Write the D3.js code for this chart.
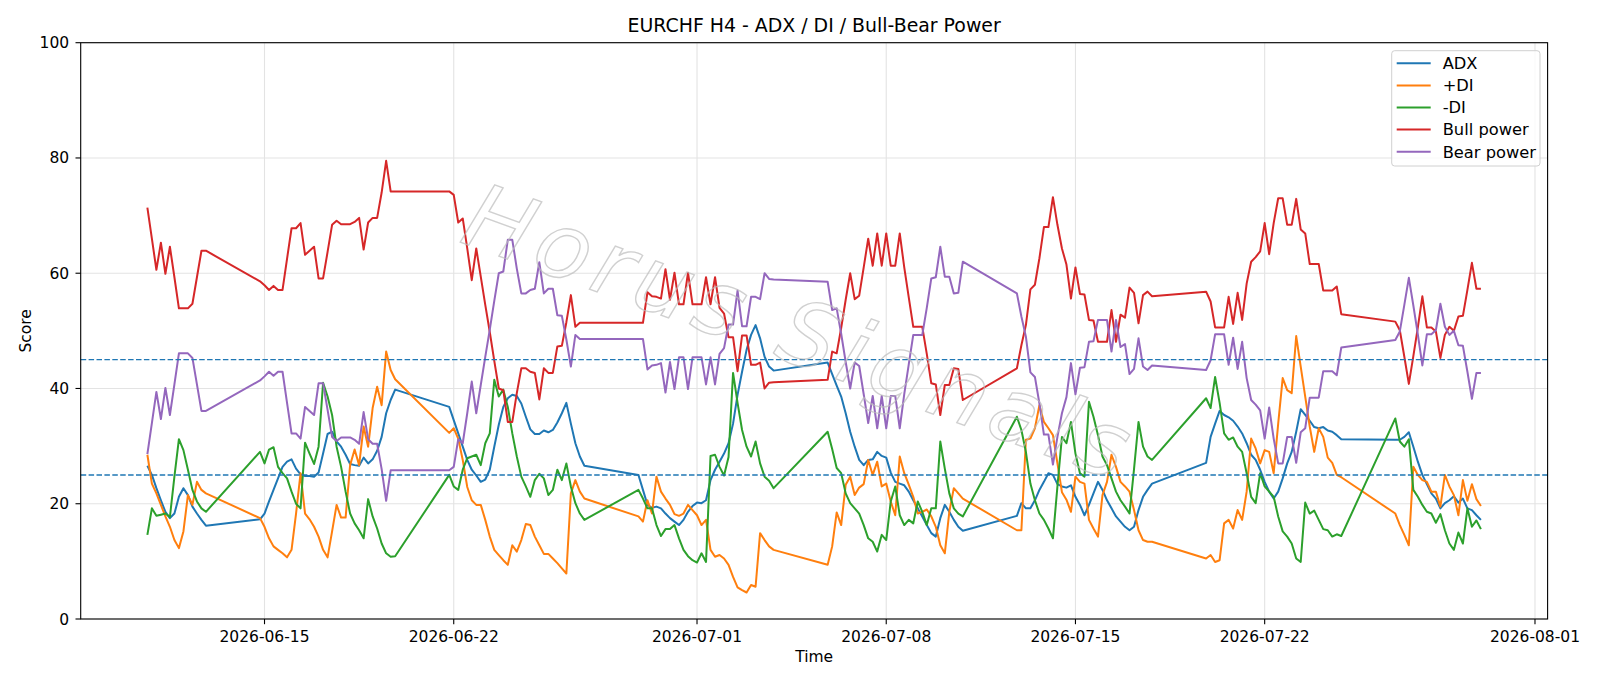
<!DOCTYPE html>
<html>
<head>
<meta charset="utf-8">
<script src="https://cdn.jsdelivr.net/npm/d3@7"></script>
<style>
  body { margin: 0; background: #fff; }
  svg { display: block; font-family: "DejaVu Sans", sans-serif; }
</style>
</head>
<body>
<svg id="chart"></svg>
<script>
// H4 bars: each session is a run of consecutive 4-hour bars (Sunday 20:00 -> Friday 20:00)
const sessions = [
    ["2026-06-10T16:00:00Z", 14],
    ["2026-06-14T20:00:00Z", 31],
    ["2026-06-21T20:00:00Z", 31],
    ["2026-06-28T20:00:00Z", 31],
    ["2026-07-05T20:00:00Z", 31],
    ["2026-07-12T20:00:00Z", 31],
    ["2026-07-19T20:00:00Z", 31],
    ["2026-07-26T20:00:00Z", 20]
];

const adx = [
    26.6, 25.0, 22.7, 20.6, 18.6, 17.5, 18.3, 21.2, 22.7, 21.5, 19.5, 18.3, 17.2, 16.2,
    17.3, 18.3, 20.4, 22.4, 24.4, 26.4, 27.3, 27.7, 26.1, 25.1, 24.8, 24.8, 24.7, 25.4, 28.7, 32.1, 32.5, 30.8, 29.9, 28.5, 26.9, 26.7, 26.6, 28.0, 27.0, 27.7, 29.2, 31.6, 35.7, 38.0, 39.8,
    36.8, 34.5, 32.2, 29.9, 27.6, 25.9, 24.9, 23.8, 24.2, 25.9, 29.9, 33.7, 36.8, 38.3, 38.9, 38.7, 37.4, 35.1, 32.9, 32.1, 32.1, 32.7, 32.4, 32.8, 34.1, 35.7, 37.5, 33.9, 30.5, 28.2, 26.6,
    25.0, 22.4, 19.8, 19.3, 19.5, 19.2, 18.3, 17.5, 16.9, 16.3, 17.2, 18.6, 19.6, 20.2, 20.1, 20.6, 24.1, 25.9, 27.3, 28.7, 30.5, 33.9, 38.9, 42.9, 46.7, 49.3, 51.0, 48.7, 45.5, 43.8, 43.1,
    44.5, 42.5, 40.5, 38.6, 35.7, 32.5, 29.9, 27.6, 26.7, 27.6, 27.7, 29.0, 28.3, 28.0, 25.4, 23.8, 23.5, 23.2, 22.1, 20.6, 19.2, 17.8, 16.3, 14.9, 14.3, 17.5, 19.8, 18.6, 17.2, 16.0, 15.3,
    17.9, 20.1, 19.2, 19.2, 20.6, 22.4, 23.8, 25.3, 25.0, 23.4, 23.0, 22.8, 23.2, 21.2, 19.8, 18.0, 19.8, 21.8, 23.8, 22.4, 20.6, 19.2, 17.8, 16.9, 16.0, 15.4, 16.0, 18.9, 21.2, 22.4, 23.5,
    27.1, 31.6, 33.9, 36.1, 35.4, 35.0, 34.4, 33.4, 32.2, 30.5, 28.5, 27.6, 25.9, 23.8, 22.1, 20.9, 22.1, 24.4, 27.0, 29.0, 32.5, 36.4, 35.4, 34.4, 33.3, 33.1, 33.3, 32.7, 32.5, 31.9, 31.2,
    31.1, 31.1, 31.6, 32.4, 29.9, 27.3, 25.0, 23.4, 21.8, 20.9, 19.2, 20.1, 20.6, 21.3, 20.2, 20.9, 19.2, 18.9, 18.0, 17.2
];

const plusDI = [
    28.5, 23.5, 21.8, 19.8, 17.8, 16.0, 13.7, 12.3, 15.2, 21.5, 19.8, 23.8, 22.4, 21.8,
    17.5, 16.0, 14.0, 12.6, 12.0, 11.4, 10.7, 12.0, 18.3, 25.3, 18.3, 17.3, 16.0, 14.3, 12.0, 10.7, 15.2, 19.8, 17.6, 17.6, 26.7, 29.4, 26.7, 33.4, 29.9, 36.6, 40.3, 37.1, 46.4, 43.2, 41.6,
    32.3, 33.1, 31.3, 27.6, 22.9, 20.6, 19.8, 19.8, 17.2, 14.3, 12.0, 11.1, 10.2, 9.4, 12.8, 11.7, 13.7, 16.5, 16.3, 14.3, 12.8, 11.3, 11.3, 10.5, 9.7, 8.8, 7.9, 21.8, 24.1, 22.1, 20.9,
    17.8, 16.9, 20.6, 18.3, 24.7, 22.1, 20.9, 19.8, 18.2, 17.9, 18.3, 19.8, 18.9, 18.0, 16.3, 17.2, 12.0, 10.8, 11.1, 10.5, 9.4, 7.3, 5.5, 5.0, 4.6, 5.9, 5.6, 14.9, 13.7, 12.6, 12.0,
    9.4, 12.6, 18.5, 16.3, 23.3, 24.7, 21.5, 22.8, 23.4, 27.6, 25.0, 27.3, 23.0, 23.5, 20.4, 18.0, 28.2, 25.3, 23.3, 21.2, 18.3, 18.6, 19.0, 17.8, 16.0, 12.8, 11.4, 18.6, 22.7, 21.8, 20.9,
    15.4, 15.4, 31.1, 31.3, 33.1, 37.1, 34.2, 33.1, 31.9, 27.0, 22.0, 20.7, 18.6, 24.7, 23.8, 23.5, 17.2, 15.7, 14.3, 21.5, 23.8, 28.5, 26.4, 23.8, 23.0, 22.1, 18.9, 15.4, 13.7, 13.4, 13.4,
    10.5, 11.1, 9.9, 10.2, 16.6, 17.2, 15.7, 18.9, 17.2, 22.1, 31.3, 29.6, 27.0, 29.3, 29.0, 25.3, 33.9, 41.8, 39.7, 39.2, 49.1, 43.8, 38.6, 33.4, 29.0, 33.1, 31.6, 28.0, 27.1, 25.0, 24.6,
    18.3, 16.3, 14.6, 12.8, 26.4, 25.0, 24.1, 23.8, 22.1, 22.1, 19.5, 25.0, 23.0, 21.5, 18.0, 24.1, 20.5, 23.4, 20.8, 19.6
];

const minusDI = [
    14.6, 19.2, 17.9, 18.1, 18.3, 17.7, 24.7, 31.2, 29.3, 25.9, 22.4, 20.4, 19.2, 18.6,
    29.0, 27.0, 29.4, 29.8, 26.4, 25.3, 24.4, 22.1, 20.0, 19.2, 30.6, 28.7, 26.9, 29.9, 41.0, 38.6, 35.4, 29.9, 26.4, 22.1, 18.3, 16.6, 15.4, 14.0, 20.8, 17.8, 15.7, 13.1, 11.4, 10.8, 10.9,
    25.0, 23.0, 22.4, 25.9, 27.9, 28.2, 28.5, 26.7, 30.5, 32.2, 41.5, 38.6, 39.8, 36.8, 32.2, 28.2, 24.7, 23.0, 21.2, 24.1, 25.2, 24.4, 21.5, 22.4, 25.9, 24.1, 27.0, 23.0, 20.1, 18.3, 17.2,
    22.4, 20.9, 19.2, 19.2, 16.3, 14.4, 15.6, 15.6, 16.3, 14.0, 12.0, 10.9, 10.2, 9.8, 11.4, 9.9, 28.3, 28.5, 26.4, 24.9, 28.1, 42.7, 37.5, 32.8, 29.9, 28.2, 30.8, 27.0, 24.7, 24.0, 22.7,
    32.5, 29.5, 26.2, 25.3, 21.8, 20.1, 19.2, 18.3, 16.3, 14.0, 13.4, 11.7, 14.6, 13.7, 20.4, 23.0, 18.0, 16.3, 17.2, 16.6, 20.4, 18.6, 16.3, 19.2, 19.2, 30.8, 26.1, 21.8, 19.2, 18.3, 17.8,
    35.1, 32.8, 29.0, 23.5, 20.6, 18.3, 17.2, 15.7, 14.0, 23.0, 31.6, 30.5, 34.2, 28.7, 25.3, 24.7, 37.7, 35.1, 31.9, 28.2, 26.7, 24.4, 22.1, 20.6, 19.5, 18.3, 26.0, 34.2, 29.9, 28.2, 27.6,
    38.3, 36.6, 42.0, 37.5, 32.2, 31.1, 31.5, 29.9, 29.0, 25.3, 21.2, 20.1, 25.3, 23.0, 22.1, 21.2, 17.8, 15.2, 14.3, 13.1, 10.5, 9.9, 20.2, 18.3, 18.8, 17.2, 15.6, 15.4, 14.3, 14.7, 14.4,
    34.8, 30.8, 29.9, 31.2, 22.4, 21.2, 19.8, 18.6, 18.3, 16.7, 18.2, 15.4, 13.1, 12.0, 15.0, 13.1, 19.2, 16.0, 17.1, 15.6
];

const bullPower = [
    71.4, 66.0, 60.6, 65.3, 59.9, 64.6, 59.3, 53.9, 53.9, 53.9, 54.7, 59.3, 63.9, 63.9,
    58.6, 57.9, 57.1, 57.8, 57.1, 57.1, 62.5, 67.8, 67.8, 68.7, 63.2, 63.9, 64.6, 59.1, 59.1, 63.7, 68.4, 69.1, 68.5, 68.5, 68.5, 68.9, 69.6, 64.1, 68.8, 69.6, 69.6, 74.0, 79.5, 74.2, 74.2,
    74.2, 73.6, 68.8, 69.5, 64.3, 58.8, 64.3, 59.4, 54.5, 49.8, 44.8, 40.0, 39.7, 34.2, 34.2, 39.2, 43.5, 43.5, 42.9, 42.7, 38.1, 43.5, 42.7, 42.7, 47.3, 47.4, 51.5, 56.2, 50.7, 51.4, 51.4,
    51.4, 51.4, 56.7, 56.0, 55.9, 55.6, 60.7, 55.4, 60.1, 54.6, 54.6, 60.1, 54.6, 54.6, 54.6, 59.3, 54.6, 59.3, 54.0, 53.0, 48.9, 48.9, 43.0, 49.2, 49.2, 44.1, 44.1, 44.5, 40.0, 41.0, 41.1,
    41.5, 46.4, 46.1, 50.5, 55.4, 60.0, 55.5, 56.1, 61.0, 66.0, 61.3, 66.9, 61.3, 66.9, 61.3, 61.3, 66.9, 61.0, 55.8, 50.7, 50.7, 50.7, 46.0, 40.9, 40.7, 35.4, 40.6, 40.6, 43.5, 43.4, 38.0,
    43.5, 47.5, 51.0, 57.2, 58.0, 62.6, 68.0, 68.0, 73.2, 68.4, 64.3, 61.5, 55.6, 61.0, 56.4, 56.3, 51.9, 51.8, 48.1, 48.1, 48.1, 53.6, 48.1, 52.8, 52.3, 57.5, 56.6, 51.3, 56.2, 56.8, 56.0,
    56.8, 55.1, 50.6, 50.6, 50.6, 55.9, 51.2, 56.6, 51.9, 58.2, 62.0, 62.8, 63.8, 68.7, 63.3, 68.7, 73.0, 73.0, 68.4, 68.4, 72.9, 67.6, 66.9, 61.6, 61.6, 61.6, 57.0, 57.0, 57.0, 57.7, 52.9,
    51.6, 50.1, 45.5, 40.8, 45.6, 50.6, 56.0, 50.6, 50.6, 49.9, 45.3, 49.3, 50.7, 50.0, 52.5, 52.6, 57.1, 61.8, 57.3, 57.3
];

const bearPower = [
    28.6, 34.0, 39.4, 34.7, 40.1, 35.4, 40.7, 46.1, 46.1, 46.1, 45.3, 40.7, 36.1, 36.1,
    41.4, 42.1, 42.9, 42.2, 42.9, 42.9, 37.5, 32.2, 32.2, 31.3, 36.8, 36.1, 35.4, 40.9, 40.9, 36.3, 31.6, 30.9, 31.5, 31.5, 31.5, 31.1, 30.4, 35.9, 31.2, 30.4, 30.4, 26.0, 20.5, 25.8, 25.8,
    25.8, 26.4, 31.2, 30.5, 35.7, 41.2, 35.7, 40.6, 45.5, 50.2, 55.2, 60.0, 60.3, 65.8, 65.8, 60.8, 56.5, 56.5, 57.1, 57.3, 61.9, 56.5, 57.3, 57.3, 52.7, 52.6, 48.5, 43.8, 49.3, 48.6, 48.6,
    48.6, 48.6, 43.3, 44.0, 44.1, 44.4, 39.3, 44.6, 39.9, 45.4, 45.4, 39.9, 45.4, 45.4, 45.4, 40.7, 45.4, 40.7, 46.0, 47.0, 51.1, 51.1, 57.0, 50.8, 50.8, 55.9, 55.9, 55.5, 60.0, 59.0, 58.9,
    58.5, 53.6, 53.9, 49.5, 44.6, 40.0, 44.5, 43.9, 39.0, 34.0, 38.7, 33.1, 38.7, 33.1, 38.7, 38.7, 33.1, 39.0, 44.2, 49.3, 49.3, 49.3, 54.0, 59.1, 59.3, 64.6, 59.4, 59.4, 56.5, 56.6, 62.0,
    56.5, 52.5, 49.0, 42.8, 42.0, 37.4, 32.0, 32.0, 26.8, 31.6, 35.7, 38.5, 44.4, 39.0, 43.6, 43.7, 48.1, 48.2, 51.9, 51.9, 51.9, 46.4, 51.9, 47.2, 47.7, 42.5, 43.4, 48.7, 43.8, 43.2, 44.0,
    43.2, 44.9, 49.4, 49.4, 49.4, 44.1, 48.8, 43.4, 48.1, 41.8, 38.0, 37.2, 36.2, 31.3, 36.7, 31.3, 27.0, 27.0, 31.6, 31.6, 27.1, 32.4, 33.1, 38.4, 38.4, 38.4, 43.0, 43.0, 43.0, 42.3, 47.1,
    48.4, 49.9, 54.5, 59.2, 54.4, 49.4, 44.0, 49.4, 49.4, 50.1, 54.7, 50.7, 49.3, 50.0, 47.5, 47.4, 42.9, 38.2, 42.7, 42.7
];

const seriesNames = ["ADX", "+DI", "-DI", "Bull power", "Bear power"];
const seriesColors = ["#1f77b4", "#ff7f0e", "#2ca02c", "#d62728", "#9467bd"];
const thresholds = [25, 45];
const xTickLabels = ["2026-06-15", "2026-06-22", "2026-07-01", "2026-07-08", "2026-07-15", "2026-07-22", "2026-08-01"];
const yTickValues = [0, 20, 40, 60, 80, 100];

function draw() {
    const width = 1600;
    const height = 686;
    const left = 80.7, right = 1547.6, top = 42.7, bottom = 619;

    const svg = d3.select("#chart").attr("width", width).attr("height", height);
    svg.append("rect").attr("width", width).attr("height", height).attr("fill", "#fff");

    const times = sessions.flatMap(([start, n]) =>
        d3.range(n).map(i => d3.utcHour.offset(new Date(start), 4 * i)));

    const t0 = times[0], t1 = times[times.length - 1];
    const pad = (t1 - t0) * 0.05;
    const x = d3.scaleUtc()
        .domain([new Date(+t0 - pad), new Date(+t1 + pad)])
        .range([left, right]);
    const y = d3.scaleLinear().domain([0, 100]).range([bottom, top]);

    const xTicks = xTickLabels.map(s => new Date(s + "T00:00:00Z"));
    const fmt = d3.utcFormat("%Y-%m-%d");

    // grid
    svg.append("g").selectAll("line").data(xTicks).join("line")
        .attr("x1", d => x(d)).attr("x2", d => x(d))
        .attr("y1", top).attr("y2", bottom)
        .attr("stroke", "#e3e3e3").attr("stroke-width", 1.1);
    svg.append("g").selectAll("line").data(yTickValues).join("line")
        .attr("x1", left).attr("x2", right)
        .attr("y1", d => y(d)).attr("y2", d => y(d))
        .attr("stroke", "#e3e3e3").attr("stroke-width", 1.1);

    const series = [adx, plusDI, minusDI, bullPower, bearPower].map((values, i) => ({
        name: seriesNames[i],
        color: seriesColors[i],
        points: values.map((v, j) => [times[j], v])
    }));

    const line = d3.line().x(d => x(d[0])).y(d => y(d[1]));

    const plot = svg.append("g");
    plot.selectAll("path")
        .data(series)
        .join("path")
        .attr("fill", "none")
        .attr("stroke", d => d.color)
        .attr("stroke-width", 2)
        .attr("stroke-linejoin", "round")
        .attr("d", d => line(d.points));

    svg.append("g").selectAll("line").data(thresholds).join("line")
        .attr("x1", left).attr("x2", right)
        .attr("y1", d => y(d)).attr("y2", d => y(d))
        .attr("stroke", "#1f77b4")
        .attr("stroke-width", 1.4)
        .attr("stroke-dasharray", "5.5,2.4");

    // watermark
    svg.append("text")
        .attr("transform", "translate(790,362) rotate(20)")
        .attr("text-anchor", "middle")
        .attr("font-size", 90)
        .attr("font-style", "italic")
        .attr("letter-spacing", 7)
        .attr("fill", "none")
        .attr("stroke", "#bdbdbd")
        .attr("stroke-width", 1.4)
        .attr("opacity", 0.7)
        .text("Horus Signals");

    // frame
    svg.append("rect")
        .attr("x", left).attr("y", top)
        .attr("width", right - left).attr("height", bottom - top)
        .attr("fill", "none").attr("stroke", "#000").attr("stroke-width", 1.1);

    // x axis
    const xg = svg.append("g");
    xg.selectAll("line").data(xTicks).join("line")
        .attr("x1", d => x(d)).attr("x2", d => x(d))
        .attr("y1", bottom).attr("y2", bottom + 5.2)
        .attr("stroke", "#000").attr("stroke-width", 1.1);
    xg.selectAll("text").data(xTicks).join("text")
        .attr("x", d => x(d)).attr("y", bottom + 23)
        .attr("text-anchor", "middle")
        .attr("font-size", 15.5)
        .text(d => fmt(d));

    // y axis
    const yg = svg.append("g");
    yg.selectAll("line").data(yTickValues).join("line")
        .attr("x1", left - 5.2).attr("x2", left)
        .attr("y1", d => y(d)).attr("y2", d => y(d))
        .attr("stroke", "#000").attr("stroke-width", 1.1);
    yg.selectAll("text").data(yTickValues).join("text")
        .attr("x", left - 11.5).attr("y", d => y(d) + 5.5)
        .attr("text-anchor", "end")
        .attr("font-size", 15.5)
        .text(d => d);

    svg.append("text")
        .attr("x", (left + right) / 2).attr("y", 662)
        .attr("text-anchor", "middle").attr("font-size", 15.5)
        .text("Time");
    svg.append("text")
        .attr("transform", `translate(31,${(top + bottom) / 2}) rotate(-90)`)
        .attr("text-anchor", "middle").attr("font-size", 15.5)
        .text("Score");
    svg.append("text")
        .attr("x", (left + right) / 2).attr("y", 32)
        .attr("text-anchor", "middle").attr("font-size", 18.9)
        .text("EURCHF H4 - ADX / DI / Bull-Bear Power");

    // legend
    const legend = svg.append("g");
    legend.append("rect")
        .attr("x", 1391.7).attr("y", 50.7)
        .attr("width", 148.3).attr("height", 115.3)
        .attr("rx", 3)
        .attr("fill", "#fff").attr("fill-opacity", 0.8)
        .attr("stroke", "#d0d0d0").attr("stroke-width", 1);
    const rows = legend.selectAll("g").data(series).join("g")
        .attr("transform", (d, i) => `translate(0,${63.3 + i * 22.1})`);
    rows.append("line")
        .attr("x1", 1396.7).attr("x2", 1430.7)
        .attr("stroke", d => d.color).attr("stroke-width", 2);
    rows.append("text")
        .attr("x", 1442.7).attr("y", 5.8)
        .attr("font-size", 16.3)
        .text(d => d.name);
}

draw();
</script>
</body>
</html>
